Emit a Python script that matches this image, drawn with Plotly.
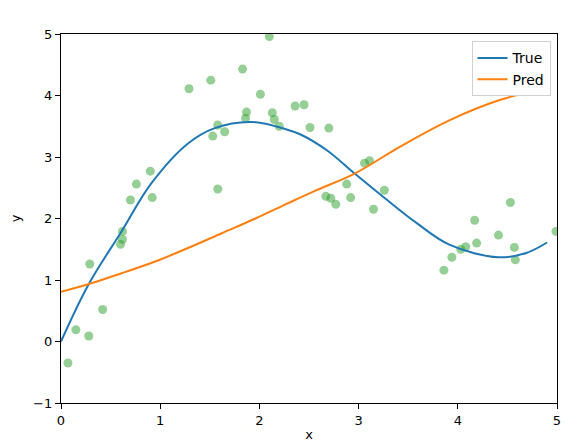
import plotly.graph_objects as go

# noisy observations
obs_x = [0.07, 0.15, 0.28, 0.29, 0.42, 0.60, 0.62, 0.62, 0.70, 0.76, 0.90, 0.92,
         1.29, 1.51, 1.53, 1.58, 1.58, 1.65, 1.83, 1.86, 1.87, 2.01, 2.10, 2.13,
         2.15, 2.20, 2.36, 2.45, 2.51, 2.67, 2.70, 2.72, 2.77, 2.88, 2.92, 3.06,
         3.11, 3.15, 3.26, 3.86, 3.94, 4.03, 4.08, 4.17, 4.19, 4.41, 4.53, 4.57,
         4.58, 4.99]
obs_y = [-0.35, 0.19, 0.09, 1.26, 0.52, 1.58, 1.66, 1.79, 2.30, 2.56, 2.77, 2.34,
         4.11, 4.25, 3.34, 3.52, 2.48, 3.41, 4.43, 3.63, 3.73, 4.02, 4.96, 3.72,
         3.61, 3.50, 3.83, 3.85, 3.48, 2.36, 3.47, 2.33, 2.23, 2.56, 2.34, 2.90,
         2.94, 2.15, 2.46, 1.16, 1.37, 1.50, 1.54, 1.97, 1.60, 1.73, 2.26, 1.53,
         1.33, 1.79]

# true function
true_x = [0.0, 0.275, 0.61, 0.91, 1.28, 1.55, 1.92, 2.29, 2.41, 2.68, 2.96,
          3.25, 3.59, 3.92, 4.41, 4.69, 4.90]
true_y = [0.0, 0.92, 1.79, 2.57, 3.22, 3.47, 3.57, 3.44, 3.37, 3.11, 2.73,
          2.35, 1.92, 1.57, 1.37, 1.44, 1.61]

# model prediction
pred_x = [0.0, 0.275, 0.61, 0.95, 1.28, 1.62, 1.96, 2.29, 2.56, 2.96, 3.42,
          3.92, 4.43, 4.90]
pred_y = [0.81, 0.93, 1.11, 1.30, 1.52, 1.76, 2.00, 2.25, 2.45, 2.73, 3.17,
          3.60, 3.93, 4.12]

fig = go.Figure()
fig.add_trace(go.Scatter(x=obs_x, y=obs_y, mode='markers', showlegend=False,
                         marker=dict(color='#2ca02c', opacity=0.5, size=9, line=dict(width=0))))
fig.add_trace(go.Scatter(x=true_x, y=true_y, mode='lines', name='True', line_shape='spline',
                         line=dict(color='#1f77b4', width=2)))
fig.add_trace(go.Scatter(x=pred_x, y=pred_y, mode='lines', name='Pred', line_shape='spline',
                         line=dict(color='#ff7f0e', width=2)))

axis = dict(showgrid=False, zeroline=False, showline=True, mirror=True, linecolor='black',
            linewidth=1.3, ticks='outside', ticklen=5, tickcolor='black', automargin=False,
            tickfont=dict(size=13, color='black'))
fig.update_xaxes(range=[0, 5], dtick=1, title=dict(text='x', font=dict(size=13), standoff=15), **axis)
fig.update_yaxes(range=[-1, 5], dtick=1, title=dict(text='y', font=dict(size=13)), **axis)

# page body adds 8px offset, so figure is 8px smaller and left/top margins shifted
fig.update_layout(
    width=580, height=434,
    margin=dict(l=53, r=31, t=26, b=39),
    plot_bgcolor='white', paper_bgcolor='white',
    font=dict(family='DejaVu Sans', color='black'),
    legend=dict(x=0.987, y=0.98, xanchor='right', yanchor='top', bgcolor='white',
                bordercolor='#d0d0d0', borderwidth=1, font=dict(size=14), itemwidth=30,
                tracegroupgap=0),
)
fig.write_html("out.html")
